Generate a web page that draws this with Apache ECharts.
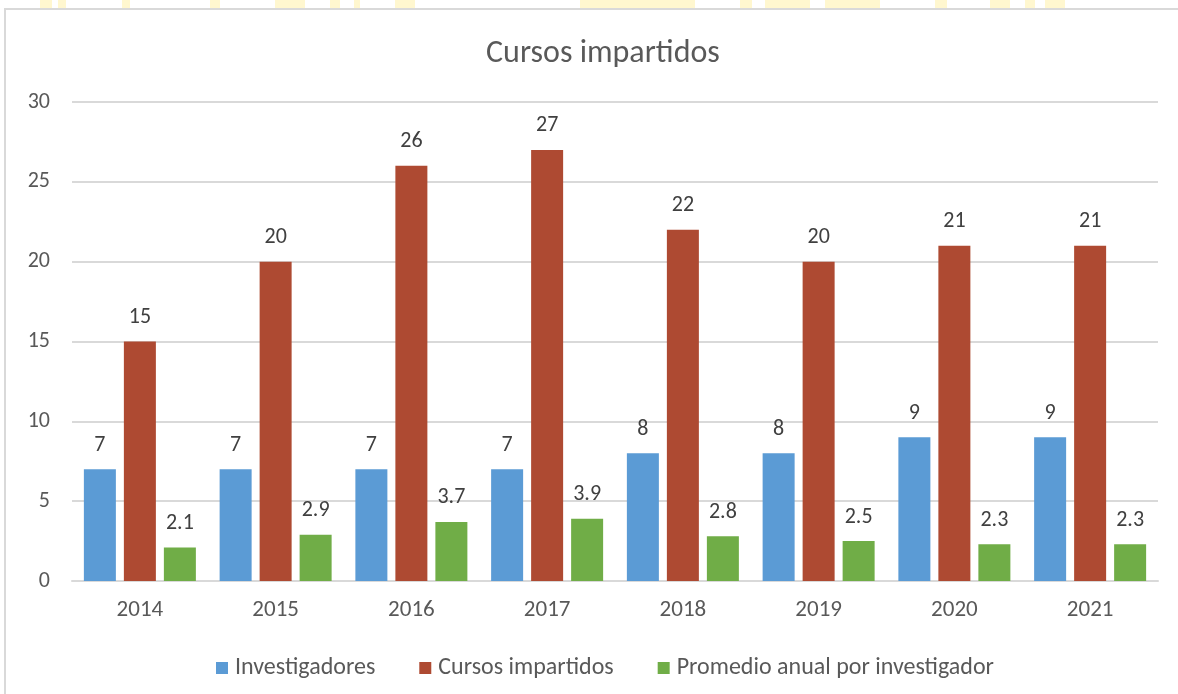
<!DOCTYPE html>
<html>
<head>
<meta charset="utf-8">
<script src="https://cdn.jsdelivr.net/npm/echarts@6/dist/echarts.min.js"></script>
<style>
  html, body { margin: 0; padding: 0; background: #fff; }
  #chart { width: 1178px; height: 694px; }
</style>
</head>
<body>
<div id="chart"></div>
<script>
// Years and yearly figures
const years = ['2014', '2015', '2016', '2017', '2018', '2019', '2020', '2021'];
const investigadores = [7, 7, 7, 7, 8, 8, 9, 9];
const cursosImpartidos = [15, 20, 26, 27, 22, 20, 21, 21];
const promedioAnual = [2.1, 2.9, 3.7, 3.9, 2.8, 2.5, 2.3, 2.3];

const seriesNames = ['Investigadores', 'Cursos impartidos', 'Promedio anual por investigador'];
const seriesColors = ['#5b9bd5', '#ae4a32', '#70ad47'];
const seriesData = [investigadores, cursosImpartidos, promedioAnual];

const FONT = 'Carlito, "Liberation Sans Narrow", "Open Sans", sans-serif';

const chart = echarts.init(document.getElementById('chart'), null, { renderer: 'canvas' });

chart.setOption({
  backgroundColor: '#ffffff',
  animation: false,
  title: {
    text: 'Cursos impartidos',
    left: 481,
    top: 33,
    textStyle: { fontFamily: FONT, fontSize: 32, fontWeight: 'normal', color: '#595959' }
  },
  legend: {
    top: 651,
    left: 211,
    itemWidth: 12,
    itemHeight: 12,
    itemGap: 44,
    icon: 'rect',
    textStyle: { fontFamily: FONT, fontSize: 24, color: '#595959', padding: [0, 0, 0, 2] },
    data: seriesNames
  },
  grid: { left: 72, right: 20, top: 102, bottom: 113 },
  xAxis: {
    type: 'category',
    data: years,
    axisLine: { lineStyle: { color: '#d9d9d9', width: 2 } },
    axisTick: { show: false },
    axisLabel: { fontFamily: FONT, fontSize: 23, color: '#595959', margin: 18 }
  },
  yAxis: {
    type: 'value',
    min: 0,
    max: 30,
    interval: 5,
    axisLine: { show: false },
    axisTick: { show: false },
    splitLine: { lineStyle: { color: '#d9d9d9', width: 2 } },
    axisLabel: { fontFamily: FONT, fontSize: 22, color: '#595959', margin: 22 }
  },
  series: seriesNames.map((name, i) => ({
    name,
    type: 'bar',
    data: seriesData[i],
    barWidth: 32,
    barGap: '25%',
    itemStyle: { color: seriesColors[i] },
    label: {
      show: true,
      position: 'top',
      distance: 13,
      fontFamily: FONT,
      fontSize: 22,
      color: '#404040'
    }
  })),
  graphic: [
    // chart frame
    {
      type: 'rect',
      shape: { x: 5, y: 9, width: 1200, height: 720 },
      style: { fill: 'none', stroke: '#d9d9d9', lineWidth: 2 },
      silent: true
    },
    // pale banner strip above the frame
    {
      type: 'group',
      silent: true,
      children: [
        [40, 12], [58, 8], [122, 8], [210, 10], [275, 30], [330, 10], [354, 6], [395, 20], [580, 115], [740, 12], [765, 45], [825, 55], [935, 12], [990, 20], [1025, 10], [1045, 20]
      ].map(([x, w]) => ({
        type: 'rect',
        shape: { x: x, y: 0, width: w, height: 8 },
        style: { fill: '#fff7cf' }
      }))
    }
  ]
});
</script>
</body>
</html>
